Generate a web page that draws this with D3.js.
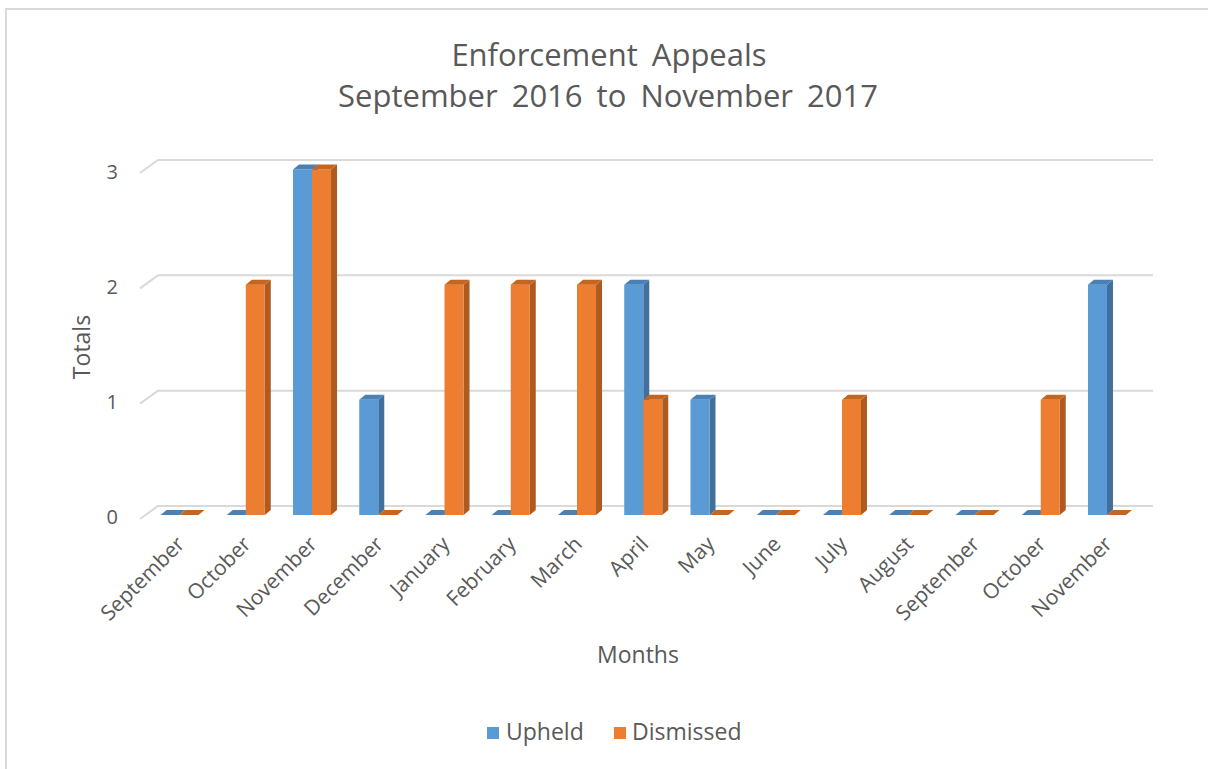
<!DOCTYPE html>
<html>
<head>
<meta charset="utf-8">
<script src="https://cdn.jsdelivr.net/npm/d3@7"></script>
<style>
  html, body { margin: 0; padding: 0; background: #ffffff; }
  svg { display: block; }
  text { font-family: "Open Sans", "Noto Sans", sans-serif; fill: #595959; }
</style>
</head>
<body>
<svg id="chart" width="1208" height="769"></svg>
<script>
// Monthly appeal outcomes, September 2016 – November 2017
const months = ["September", "October", "November", "December", "January", "February",
                "March", "April", "May", "June", "July", "August", "September", "October", "November"];
const upheld    = [0, 0, 3, 1, 0, 0, 0, 2, 1, 0, 0, 0, 0, 0, 2];
const dismissed = [0, 2, 3, 0, 2, 2, 2, 1, 0, 0, 1, 0, 0, 1, 0];
const seriesNames = ["Upheld", "Dismissed"];
const yTicks = [0, 1, 2, 3];

const palette = {
  Upheld:    { front: "#5B9BD5", side: "#41709C", top: "#4A80B4" },
  Dismissed: { front: "#ED7D31", side: "#AE5A21", top: "#C4661F" }
};

const svg = d3.select("#chart");
const W = 1208, H = 769;

// outer chart frame (only top/left edges fall inside the view)
svg.append("path")
  .attr("d", `M6,${H} L6,9 L${W},9`)
  .attr("fill", "none").attr("stroke", "#D9D9D9").attr("stroke-width", 2);

// scales: front face of the columns, and the back wall where gridlines sit
const x = d3.scaleBand().domain(d3.range(months.length)).range([146.4, 1140.1]).paddingInner(0).paddingOuter(0);
const yFront = d3.scaleLinear().domain([0, 3]).range([515, 169.5]);
const yBack  = d3.scaleLinear().domain([0, 3]).range([506, 160]);
const wallLeft = 158, wallRight = 1153;
const depthX = 6, depthY = 5;           // column extrusion
const barW = x.bandwidth() * 0.287;

// gridlines on the back wall, with the floor-edge diagonal on the left
const grid = svg.append("g").attr("fill", "none").attr("stroke", "#D9D9D9").attr("stroke-width", 2);
yTicks.forEach(t => {
  const yb = yBack(t);
  grid.append("path").attr("d", `M140,${yb + 13} L${wallLeft},${yb} L${wallRight},${yb}`);
});

// y tick labels
svg.append("g").selectAll("text").data(yTicks).join("text")
  .attr("x", 118).attr("y", d => yFront(d) + 4)
  .attr("text-anchor", "end").attr("dominant-baseline", "middle")
  .style("font-size", "20px")
  .text(d => d);

// 3D columns
const rows = months.map((m, i) => ({ i, Upheld: upheld[i], Dismissed: dismissed[i] }));
const barsG = svg.append("g");
seriesNames.forEach((name, si) => {
  const col = palette[name];
  const g = barsG.append("g");
  rows.forEach(r => {
    const x0 = x(r.i) + x.bandwidth() / 2 - barW + si * barW;
    const x1 = x0 + barW;
    const yt = yFront(r[name]);
    const yb = yFront(0);
    // side face
    g.append("path")
      .attr("d", `M${x1},${yt} L${x1 + depthX},${yt - depthY} L${x1 + depthX},${yb - depthY} L${x1},${yb} Z`)
      .attr("fill", col.side);
    // front face
    if (yb - yt > 0) {
      g.append("rect").attr("x", x0).attr("y", yt).attr("width", barW).attr("height", yb - yt)
        .attr("fill", col.front);
    }
    // top face
    g.append("path")
      .attr("d", `M${x0},${yt} L${x0 + depthX},${yt - depthY} L${x1 + depthX},${yt - depthY} L${x1},${yt} Z`)
      .attr("fill", col.top);
  });
});

// month labels, rotated
svg.append("g").selectAll("text").data(months).join("text")
  .attr("transform", (d, i) => `translate(${x(i) + x.bandwidth() / 2 - 4},${535}) rotate(-45)`)
  .attr("text-anchor", "end").attr("dy", "0.7em")
  .style("font-size", "21px")
  .text(d => d);

// axis titles
svg.append("text").attr("x", 638).attr("y", 657).attr("text-anchor", "middle")
  .attr("dominant-baseline", "middle").style("font-size", "23px").text("Months");
svg.append("text").attr("transform", "translate(84,347) rotate(-90)").attr("text-anchor", "middle")
  .attr("dominant-baseline", "middle").style("font-size", "23px").text("Totals");

// title
const title = svg.append("g").attr("text-anchor", "middle").style("font-size", "31px");
title.append("text").attr("x", 609).attr("y", 66).attr("word-spacing", "6px").text("Enforcement Appeals");
title.append("text").attr("x", 608).attr("y", 107).attr("word-spacing", "6px").text("September 2016 to November 2017");

// legend
const legend = svg.append("g").style("font-size", "23px");
const legendItems = [
  { name: "Upheld", sx: 487, tx: 506 },
  { name: "Dismissed", sx: 614, tx: 632 }
];
legendItems.forEach(it => {
  legend.append("rect").attr("x", it.sx).attr("y", 727).attr("width", 12).attr("height", 12)
    .attr("fill", palette[it.name].front);
  legend.append("text").attr("x", it.tx).attr("y", 734).attr("dominant-baseline", "middle").text(it.name);
});
</script>
</body>
</html>
